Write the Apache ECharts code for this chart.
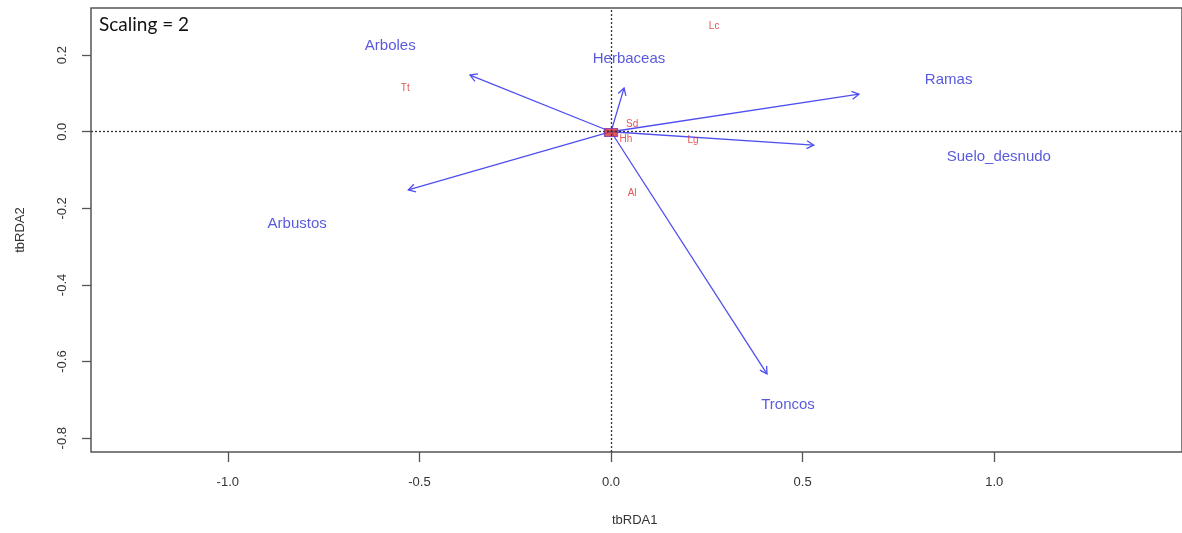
<!DOCTYPE html>
<html>
<head>
<meta charset="utf-8">
<script src="https://cdn.jsdelivr.net/npm/echarts@6/dist/echarts.min.js"></script>
<style>
html,body{margin:0;padding:0;background:#fff;}
#c{width:1182px;height:533px;}
</style>
</head>
<body>
<div id="c"></div>
<script>
// Environmental variables (biplot arrows)
const envNames = ['Arboles', 'Herbaceas', 'Ramas', 'Suelo_desnudo', 'Arbustos', 'Troncos'];
const envX = [-0.368, 0.034, 0.647, 0.529, -0.529, 0.407];
const envY = [0.148, 0.114, 0.098, -0.035, -0.152, -0.632];
// Label positions for the environmental variables
const envLabelX = [-0.576, 0.047, 0.881, 1.012, -0.819, 0.462];
const envLabelY = [0.223, 0.190, 0.135, -0.066, -0.241, -0.713];
// Species scores
const spNames = ['Lc', 'Tt', 'Sd', 'Hh', 'Lg', 'Al'];
const spX = [0.269, -0.537, 0.055, 0.039, 0.214, 0.055];
const spY = [0.276, 0.114, 0.020, -0.019, -0.022, -0.160];
// Cluster of overlapping species at the origin
const originCluster = [[0, -0.002]];
// Tick labels
const xTicks = [-1.0, -0.5, 0.0, 0.5, 1.0];
const yTicks = [-0.8, -0.6, -0.4, -0.2, 0.0, 0.2];

const chart = echarts.init(document.getElementById('c'));
const arrowColor = '#4f4ff0';
const font = 'Liberation Sans, Arial, sans-serif';

const arrowData = envX.map((x, i) => [x, envY[i], envNames[i]]);

chart.setOption({
  animation: false,
  backgroundColor: '#fff',
  grid: {left: 91, right: -3, top: 8, bottom: 81, show: true, borderColor: '#555', borderWidth: 1.5, backgroundColor: 'transparent'},
  xAxis: {
    type: 'value', min: -1.357, max: 1.49,
    axisLine: {show: false, onZero: false},
    splitLine: {show: false},
    axisTick: {show: true, inside: false, length: 10, lineStyle: {color: '#555', width: 1.3}, customValues: xTicks},
    axisLabel: {customValues: xTicks, margin: 24, fontSize: 13, color: '#333', fontFamily: font,
      formatter: v => v.toFixed(1)}
  },
  yAxis: {
    type: 'value', min: -0.836, max: 0.323,
    name: 'tbRDA2', nameLocation: 'middle', nameGap: 64, nameRotate: 90,
    nameTextStyle: {fontSize: 13, color: '#333', fontFamily: font},
    axisLine: {show: false, onZero: false},
    splitLine: {show: false},
    axisTick: {show: true, inside: false, length: 9, lineStyle: {color: '#555', width: 1.3}, customValues: yTicks},
    axisLabel: {customValues: yTicks, rotate: 90, margin: 22, fontSize: 13, color: '#333', fontFamily: font,
      formatter: v => v.toFixed(1)}
  },
  graphic: [
    {type: 'text', left: 99, top: 15, style: {text: 'Scaling = 2', fontSize: 19, fill: '#111', fontFamily: 'Lato, Open Sans, sans-serif'}},
    {type: 'text', left: 612, top: 514, style: {text: 'tbRDA1', fontSize: 13, fill: '#333', fontFamily: font, align: 'center'}}
  ],
  series: [
    {
      type: 'scatter', data: [], silent: true,
      markLine: {
        silent: true, symbol: 'none', label: {show: false},
        lineStyle: {type: [2, 2], color: '#333', width: 1.3},
        data: [{xAxis: 0}, {yAxis: 0}]
      }
    },
    {
      type: 'custom', silent: true,
      data: arrowData,
      encode: {x: 0, y: 1},
      renderItem: function (params, api) {
        const p0 = api.coord([0, 0]);
        const p1 = api.coord([api.value(0), api.value(1)]);
        const ang = Math.atan2(p1[1] - p0[1], p1[0] - p0[0]);
        const L = 8, a = Math.PI / 6;
        const h1 = [p1[0] - L * Math.cos(ang - a), p1[1] - L * Math.sin(ang - a)];
        const h2 = [p1[0] - L * Math.cos(ang + a), p1[1] - L * Math.sin(ang + a)];
        const st = {stroke: arrowColor, lineWidth: 1.3, fill: null};
        return {
          type: 'group',
          children: [
            {type: 'line', shape: {x1: p0[0], y1: p0[1], x2: p1[0], y2: p1[1]}, style: st},
            {type: 'polyline', shape: {points: [h1, p1, h2]}, style: st}
          ]
        };
      }
    },
    {
      type: 'scatter', silent: true, symbol: 'rect', symbolSize: [13, 8],
      itemStyle: {color: '#d4303a', borderColor: '#8833aa', borderWidth: 1},
      data: originCluster, z: 3
    },
    {
      type: 'scatter', silent: true, symbolSize: 0,
      data: envLabelX.map((x, i) => ({value: [x, envLabelY[i]], name: envNames[i]})),
      label: {show: true, position: 'inside', formatter: p => p.name, fontSize: 15, color: '#2f2fd6', fontFamily: font}
    },
    {
      type: 'scatter', silent: true, symbolSize: 0,
      data: spX.map((x, i) => ({value: [x, spY[i]], name: spNames[i]})),
      label: {show: true, position: 'inside', formatter: p => p.name, fontSize: 10, color: '#e02a2a', fontFamily: font}
    }
  ]
});
</script>
</body>
</html>
